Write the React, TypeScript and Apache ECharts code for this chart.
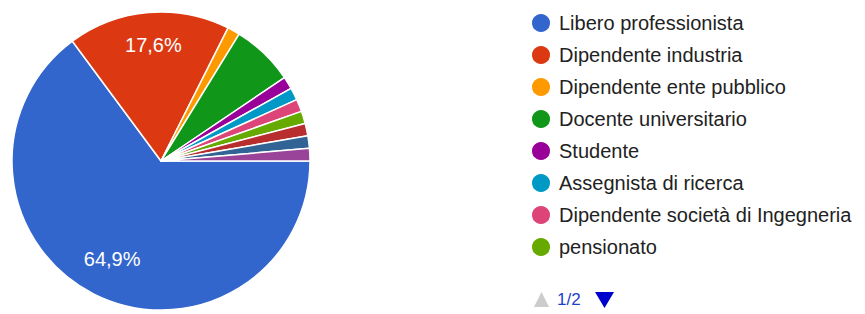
import React, { useEffect, useRef } from "react";
import * as echarts from "echarts";

const categories = [
  "Libero professionista",
  "Dipendente industria",
  "Dipendente ente pubblico",
  "Docente universitario",
  "Studente",
  "Assegnista di ricerca",
  "Dipendente società di Ingegneria",
  "pensionato",
  "Categoria 9",
  "Categoria 10",
  "Categoria 11",
];
const counts = [48, 13, 1, 5, 1, 1, 1, 1, 1, 1, 1];
const colors = [
  "#3366cc", "#dc3912", "#ff9900", "#109618", "#990099", "#0099c6",
  "#dd4477", "#66aa00", "#b82e2e", "#316395", "#994499",
];
const legendNames = categories.slice(0, 8);
const pageText = "1/2";

export default function App() {
  const ref = useRef<HTMLDivElement>(null);
  useEffect(() => {
    document.body.style.margin = "0";
    const chart = echarts.init(ref.current!, null, { renderer: "svg" });
    const total = counts.reduce((a, b) => a + b, 0);
    const data = categories.map((name, i) => ({
      name,
      value: counts[i],
      itemStyle: { color: colors[i] },
    }));
    const labelData = categories.map((name, i) => ({
      name,
      value: counts[i],
      label: { show: counts[i] / total > 0.1 },
    }));
    chart.setOption({
      animation: false,
      color: colors,
      legend: {
        orient: "vertical",
        left: 530,
        top: 12,
        padding: 0,
        icon: "circle",
        itemWidth: 20,
        itemHeight: 20,
        itemGap: 10,
        data: legendNames,
        selectedMode: false,
        textStyle: {
          fontSize: 20,
          lineHeight: 20,
          color: "#222222",
          fontFamily: "Liberation Sans, Arial, sans-serif",
          padding: [0, 0, 0, 3],
        },
      },
      series: [
        {
          type: "pie",
          center: [161, 161],
          radius: [0, 149],
          startAngle: 0,
          clockwise: true,
          data,
          label: { show: false },
          labelLine: { show: false },
          itemStyle: { borderColor: "#ffffff", borderWidth: 1.5 },
          emphasis: { disabled: true },
        },
        {
          type: "pie",
          center: [163, 158],
          radius: [71, 149],
          startAngle: 0,
          clockwise: true,
          silent: true,
          data: labelData,
          itemStyle: { color: "rgba(0,0,0,0)", borderWidth: 0 },
          labelLine: { show: false },
          label: {
            position: "inside",
            color: "#ffffff",
            fontSize: 20,
            fontFamily: "Liberation Sans, Arial, sans-serif",
            formatter: (p: any) =>
              p.percent.toFixed(1).replace(".", ",") + "%",
          },
          emphasis: { disabled: true },
        },
      ],
      graphic: [
        {
          type: "polygon",
          shape: { points: [[534, 307], [549, 307], [541.5, 292]] },
          style: { fill: "#cccccc" },
        },
        {
          type: "text",
          left: 557,
          top: 291,
          style: {
            text: pageText,
            fontSize: 17,
            fill: "#1a3fcc",
            fontFamily: "Liberation Sans, Arial, sans-serif",
          },
        },
        {
          type: "polygon",
          shape: { points: [[595, 292], [614, 292], [604.5, 308]] },
          style: { fill: "#0000cc" },
        },
      ],
    });
    return () => chart.dispose();
  }, []);
  return <div ref={ref} style={{ width: 865, height: 314 }} />;
}
